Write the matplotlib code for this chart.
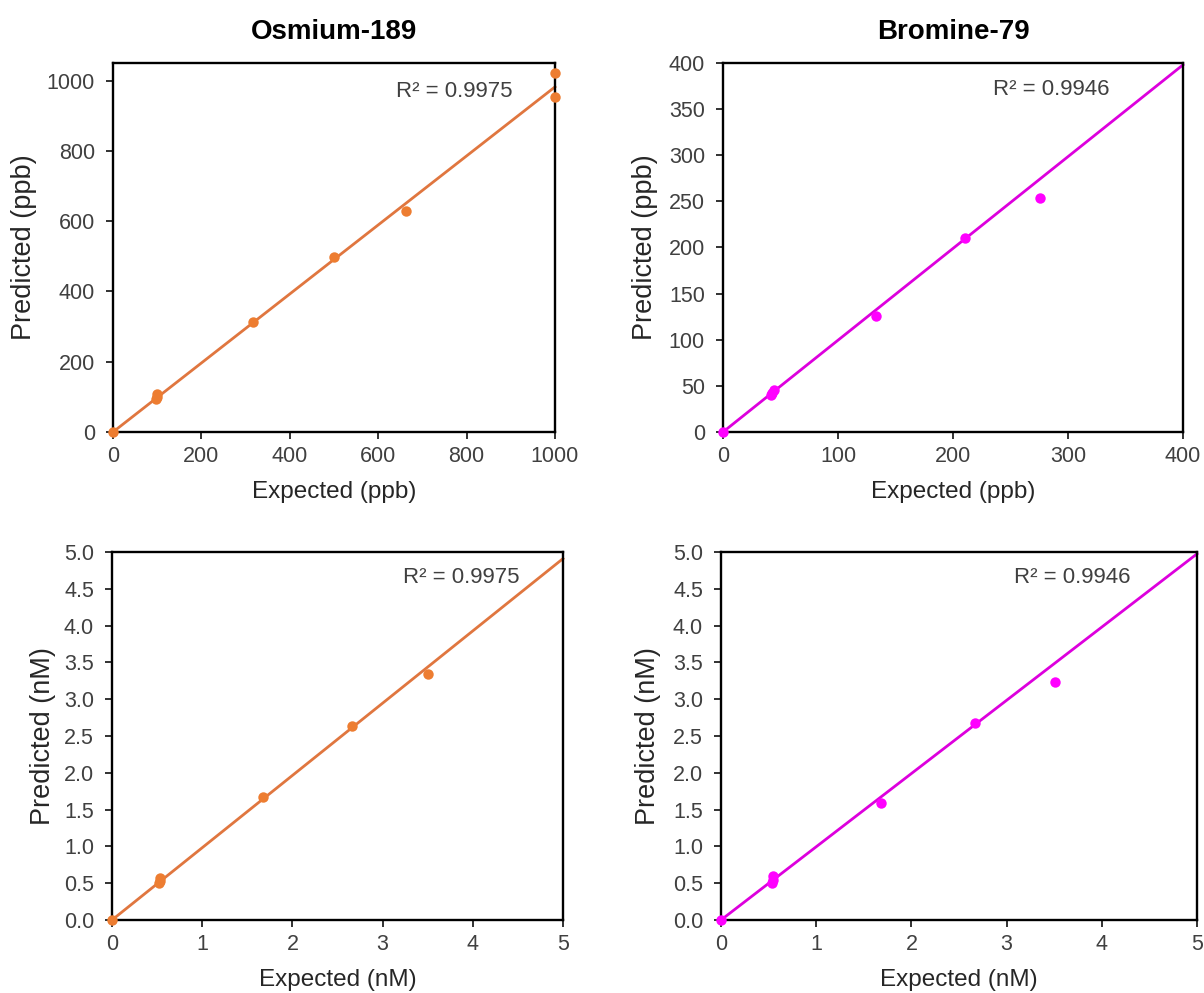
import numpy as np
import matplotlib
matplotlib.use("Agg")
import matplotlib.pyplot as plt

plt.rcParams['font.family'] = ['Liberation Sans', 'DejaVu Sans']

# ---- data ----
os_ppb_expected = [0, 100, 100, 98, 316, 500, 664, 1000, 1000]
os_ppb_predicted = [0, 107, 100, 94, 313, 498, 630, 1021, 952]
br_ppb_expected = [0, 44, 43, 42, 133, 210, 276]
br_ppb_predicted = [0, 46, 42, 40, 126, 210, 254]
os_nM_expected = [0, 0.53, 0.53, 0.52, 1.67, 2.66, 3.50]
os_nM_predicted = [0, 0.57, 0.53, 0.50, 1.67, 2.64, 3.34]
br_nM_expected = [0, 0.55, 0.55, 0.54, 1.68, 2.67, 3.51]
br_nM_predicted = [0, 0.60, 0.55, 0.50, 1.59, 2.68, 3.23]

os_trend_slope = 0.982
br_trend_slope = 0.995
os_r2 = "R² = 0.9975"
br_r2 = "R² = 0.9946"

titles = ["Osmium-189", "Bromine-79"]

ORANGE_PT = '#ED7D31'
ORANGE_LN = '#E0763F'
MAG_PT = '#FF00FF'
MAG_LN = '#DD00DD'

W, H = 1204, 993
fig = plt.figure(figsize=(W / 100, H / 100), dpi=100)

def px_axes(l, r, t, b):
    return fig.add_axes([l / W, 1 - b / H, (r - l) / W, (b - t) / H])

panels = [
    dict(box=(113, 555, 63, 432), x=os_ppb_expected, y=os_ppb_predicted, slope=os_trend_slope,
         pc=ORANGE_PT, lc=ORANGE_LN, xlim=(0, 1000), ylim=(0, 1050),
         xt=np.arange(0, 1001, 200), yt=np.arange(0, 1001, 200), yfmt='{:.0f}',
         xl='Expected (ppb)', yl='Predicted (ppb)', r2=os_r2, r2pos=(0.903, 0.922), ylx=24),
    dict(box=(723, 1183, 63, 432), x=br_ppb_expected, y=br_ppb_predicted, slope=br_trend_slope,
         pc=MAG_PT, lc=MAG_LN, xlim=(0, 400), ylim=(0, 400),
         xt=np.arange(0, 401, 100), yt=np.arange(0, 401, 50), yfmt='{:.0f}',
         xl='Expected (ppb)', yl='Predicted (ppb)', r2=br_r2, r2pos=(0.841, 0.929), ylx=645),
    dict(box=(112, 563, 552, 920), x=os_nM_expected, y=os_nM_predicted, slope=os_trend_slope,
         pc=ORANGE_PT, lc=ORANGE_LN, xlim=(0, 5), ylim=(0, 5),
         xt=np.arange(0, 6, 1), yt=np.arange(0, 5.01, 0.5), yfmt='{:.1f}',
         xl='Expected (nM)', yl='Predicted (nM)', r2=os_r2, r2pos=(0.903, 0.931), ylx=43),
    dict(box=(721, 1197, 552, 920), x=br_nM_expected, y=br_nM_predicted, slope=br_trend_slope,
         pc=MAG_PT, lc=MAG_LN, xlim=(0, 5), ylim=(0, 5),
         xt=np.arange(0, 6, 1), yt=np.arange(0, 5.01, 0.5), yfmt='{:.1f}',
         xl='Expected (nM)', yl='Predicted (nM)', r2=br_r2, r2pos=(0.861, 0.931), ylx=648),
]

for p in panels:
    l, r, t, b = p['box']
    ax = px_axes(l, r, t, b)
    xs = np.array(p['xlim'], dtype=float)
    ax.plot(xs, p['slope'] * xs, color=p['lc'], lw=2.0, zorder=2, clip_on=False)
    ax.plot(p['x'], p['y'], 'o', color=p['pc'], ms=7.5, mec='none', zorder=3, clip_on=False)
    ax.set_xlim(*p['xlim'])
    ax.set_ylim(*p['ylim'])
    ax.set_xticks(p['xt'])
    ax.set_xticklabels([f'{v:g}' for v in p['xt']])
    ax.set_yticks(p['yt'])
    ax.set_yticklabels([p['yfmt'].format(v) for v in p['yt']])
    for s in ax.spines.values():
        s.set_linewidth(1.7)
        s.set_color('black')
    ax.tick_params(axis='both', direction='out', length=5, width=1.3, color='#222222',
                   labelsize=15.5, labelcolor='#404040', top=False, right=False)
    ax.tick_params(axis='x', pad=5)
    ax.tick_params(axis='y', pad=8)
    ax.set_xlabel(p['xl'], fontsize=17.5, color='#262626', va='center')
    ax.xaxis.set_label_coords(0.5, -60 / (b - t))
    ax.set_ylabel(p['yl'], fontsize=19.5, color='#262626', va='center')
    ax.yaxis.set_label_coords((p['ylx'] - l) / (r - l), 0.5)
    ax.text(p['r2pos'][0], p['r2pos'][1], p['r2'], transform=ax.transAxes,
            ha='right', va='center', fontsize=16, color='#404040')

fig.text(334 / W, 1 - 32 / H, titles[0], ha='center', va='center',
         fontsize=20, fontweight='bold', color='black')
fig.text(953 / W, 1 - 32 / H, titles[1], ha='center', va='center',
         fontsize=20, fontweight='bold', color='black')

fig.savefig('out.png', dpi=100, facecolor='white')
